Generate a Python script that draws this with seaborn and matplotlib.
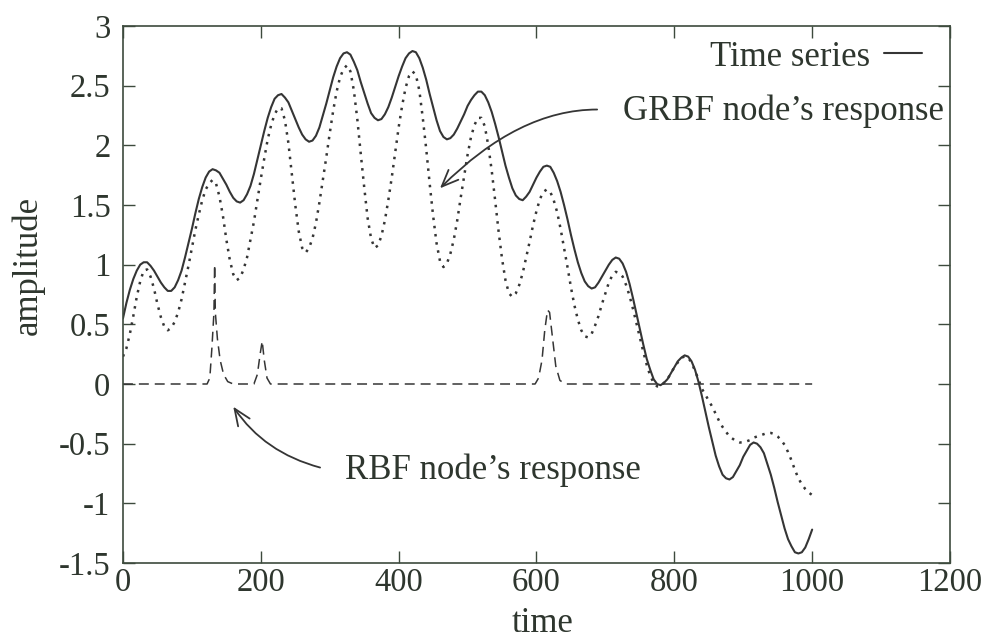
import matplotlib
matplotlib.use("Agg")
import matplotlib.pyplot as plt
import pandas as pd
import seaborn as sns

# Sampled time axis for the signal and the GRBF node output
time = list(range(0, 1001, 5))

series = [0.55, 0.68, 0.79, 0.88, 0.95, 1.00, 1.02, 1.02, 0.99, 0.95,
          0.90, 0.85, 0.81, 0.78, 0.78, 0.81, 0.87, 0.95, 1.06, 1.18,
          1.30, 1.43, 1.55, 1.65, 1.73, 1.78, 1.80, 1.79, 1.77, 1.72,
          1.67, 1.61, 1.56, 1.53, 1.52, 1.54, 1.59, 1.66, 1.76, 1.88,
          2.00, 2.12, 2.23, 2.32, 2.39, 2.42, 2.43, 2.40, 2.36, 2.29,
          2.22, 2.15, 2.09, 2.05, 2.03, 2.04, 2.08, 2.15, 2.25, 2.35,
          2.46, 2.57, 2.66, 2.73, 2.77, 2.78, 2.76, 2.70, 2.63, 2.53,
          2.44, 2.35, 2.27, 2.23, 2.21, 2.22, 2.26, 2.32, 2.40, 2.49,
          2.58, 2.66, 2.73, 2.77, 2.79, 2.78, 2.73, 2.65, 2.55, 2.43,
          2.32, 2.21, 2.12, 2.07, 2.05, 2.06, 2.09, 2.14, 2.20, 2.26,
          2.33, 2.38, 2.42, 2.45, 2.45, 2.42, 2.36, 2.28, 2.18, 2.07,
          1.95, 1.83, 1.73, 1.64, 1.58, 1.55, 1.54, 1.57, 1.61, 1.67,
          1.73, 1.78, 1.82, 1.83, 1.82, 1.77, 1.70, 1.61, 1.50, 1.38,
          1.25, 1.13, 1.02, 0.93, 0.86, 0.82, 0.80, 0.81, 0.85, 0.90,
          0.95, 1.00, 1.04, 1.06, 1.05, 1.01, 0.94, 0.84, 0.72, 0.59,
          0.46, 0.33, 0.21, 0.12, 0.04, 0.00, -0.01, 0.01, 0.04, 0.09,
          0.14, 0.19, 0.22, 0.24, 0.23, 0.19, 0.12, 0.02, -0.10, -0.23,
          -0.36, -0.48, -0.60, -0.69, -0.76, -0.79, -0.80, -0.78, -0.73, -0.68,
          -0.61, -0.56, -0.51, -0.49, -0.50, -0.53, -0.58, -0.67, -0.76, -0.87,
          -0.99, -1.10, -1.21, -1.30, -1.36, -1.41, -1.42, -1.41, -1.37, -1.30,
          -1.22]

grbf_response = [0.23, 0.30, 0.42, 0.57, 0.73, 0.86, 0.95, 0.96, 0.90, 0.80,
                 0.67, 0.56, 0.48, 0.45, 0.47, 0.52, 0.60, 0.71, 0.85, 0.99,
                 1.14, 1.29, 1.42, 1.54, 1.63, 1.68, 1.71, 1.68, 1.57, 1.41,
                 1.21, 1.04, 0.92, 0.87, 0.89, 0.96, 1.06, 1.21, 1.36, 1.54,
                 1.72, 1.89, 2.05, 2.17, 2.26, 2.31, 2.31, 2.21, 2.02, 1.76,
                 1.50, 1.28, 1.14, 1.10, 1.14, 1.22, 1.35, 1.52, 1.71, 1.90,
                 2.10, 2.29, 2.45, 2.57, 2.64, 2.67, 2.62, 2.46, 2.22, 1.93,
                 1.65, 1.39, 1.22, 1.14, 1.16, 1.24, 1.37, 1.54, 1.73, 1.94,
                 2.15, 2.33, 2.48, 2.58, 2.62, 2.59, 2.46, 2.23, 1.97, 1.68,
                 1.41, 1.18, 1.03, 0.98, 1.01, 1.09, 1.21, 1.37, 1.56, 1.74,
                 1.92, 2.07, 2.17, 2.23, 2.23, 2.16, 2.00, 1.79, 1.54, 1.28,
                 1.05, 0.87, 0.76, 0.73, 0.76, 0.83, 0.93, 1.06, 1.19, 1.33,
                 1.45, 1.55, 1.61, 1.63, 1.61, 1.54, 1.44, 1.30, 1.14, 0.98,
                 0.81, 0.66, 0.54, 0.45, 0.40, 0.39, 0.42, 0.49, 0.57, 0.67,
                 0.76, 0.85, 0.91, 0.94, 0.93, 0.90, 0.83, 0.74, 0.63, 0.51,
                 0.39, 0.27, 0.16, 0.07, 0.01, -0.02, -0.02, 0.01, 0.04, 0.09,
                 0.14, 0.18, 0.22, 0.23, 0.22, 0.18, 0.11, 0.04, -0.04, -0.09,
                 -0.14, -0.19, -0.25, -0.31, -0.36, -0.40, -0.44, -0.46, -0.48, -0.49,
                 -0.49, -0.48, -0.47, -0.45, -0.44, -0.43, -0.42, -0.41, -0.41, -0.42,
                 -0.44, -0.47, -0.51, -0.57, -0.64, -0.72, -0.79, -0.84, -0.88, -0.91,
                 -0.93]

# RBF node output: flat except for three short bursts
rbf_time = [0, 122, 126, 129, 132, 133, 134, 137, 141, 146, 152, 160,
            190, 195, 199, 202, 205, 209, 214,
            598, 603, 608, 612, 616, 619, 623, 628, 634, 642, 1000]
rbf_response = [0, 0, 0.05, 0.30, 0.60, 1.00, 0.60, 0.38, 0.20, 0.08, 0.02, 0,
                0, 0.08, 0.25, 0.36, 0.20, 0.05, 0,
                0, 0.05, 0.20, 0.45, 0.62, 0.60, 0.40, 0.15, 0.03, 0, 0]

x_ticks = [0, 200, 400, 600, 800, 1000, 1200]
y_ticks = [-1.5, -1, -0.5, 0, 0.5, 1, 1.5, 2, 2.5, 3]
y_tick_labels = ["-1.5", "-1", "-0.5", "0", "0.5", "1", "1.5", "2", "2.5", "3"]

signal_df = pd.DataFrame({"time": time, "amplitude": series, "grbf": grbf_response})
rbf_df = pd.DataFrame({"time": rbf_time, "amplitude": rbf_response})

sns.set_theme(style="ticks")
plt.rcParams["font.family"] = ["Liberation Serif", "DejaVu Serif"]
plt.rcParams["font.size"] = 24
plt.rcParams["xtick.labelsize"] = 23.5
plt.rcParams["ytick.labelsize"] = 23.5
plt.rcParams["axes.labelsize"] = 25
plt.rcParams["axes.unicode_minus"] = False

ink = "#2e362e"
line_col = "#353535"
frame_col = "#3d4a3d"
note_size = 25

fig = plt.figure(figsize=(9.87, 6.43), dpi=100)
ax = fig.add_axes([0.1246, 0.1244, 0.8379, 0.8352])

sns.lineplot(data=signal_df, x="time", y="amplitude", ax=ax, color=line_col,
             linewidth=1.5, sort=False, estimator=None, label="Time series")
solid = ax.lines[-1]
sns.lineplot(data=signal_df, x="time", y="grbf", ax=ax, color=line_col,
             linewidth=1.8, linestyle=(0, (1, 2.3)), sort=False, estimator=None)
sns.lineplot(data=rbf_df, x="time", y="amplitude", ax=ax, color=line_col,
             linewidth=1.1, linestyle=(0, (6.5, 3.9)), sort=False, estimator=None)

ax.set_xlim(0, 1200)
ax.set_ylim(-1.5, 3)
ax.set_xticks(x_ticks)
ax.set_xticklabels([str(v) for v in x_ticks])
ax.set_yticks(y_ticks)
ax.set_yticklabels(y_tick_labels)

for side in ["left", "right", "top", "bottom"]:
    ax.spines[side].set_visible(True)
    ax.spines[side].set_color(frame_col)
    ax.spines[side].set_linewidth(1.2)

ax.tick_params(axis="both", direction="in", length=8.5, width=1.0,
               top=True, right=True, color=frame_col, labelcolor=ink)
ax.tick_params(axis="x", pad=3)
ax.tick_params(axis="y", pad=9)

ax.set_xlabel("time", color=ink, va="baseline")
ax.set_ylabel("amplitude", color=ink)
ax.xaxis.set_label_coords(0.507, -0.1285)
ax.yaxis.set_label_coords(-0.095, 0.555)

ax.legend(handles=[solid], labels=["Time series"], loc="center right",
          bbox_to_anchor=(0.966, 0.942), markerfirst=False, frameon=False,
          handlelength=1.1, handletextpad=0.4, borderaxespad=0, borderpad=0,
          labelcolor=ink, fontsize=note_size)

ax.text(1192, 2.21, "GRBF node\u2019s response", ha="right", va="baseline",
        color=ink, fontsize=note_size)
ax.text(322, -0.80, "RBF node\u2019s response", ha="left", va="baseline",
        color=ink, fontsize=note_size)

ax.annotate("", xy=(460, 1.64), xytext=(688, 2.30),
            arrowprops=dict(arrowstyle="->,head_length=0.6,head_width=0.25",
                            connectionstyle="angle3,angleA=0,angleB=45",
                            color=line_col, lw=1.3, shrinkA=0, shrinkB=0,
                            mutation_scale=20))
ax.annotate("", xy=(160, -0.19), xytext=(286, -0.70),
            arrowprops=dict(arrowstyle="->,head_length=0.6,head_width=0.25",
                            connectionstyle="angle3,angleA=-15,angleB=-56",
                            color=line_col, lw=1.3, shrinkA=0, shrinkB=0,
                            mutation_scale=20))

fig.savefig("out.png", dpi=100, facecolor="white")
